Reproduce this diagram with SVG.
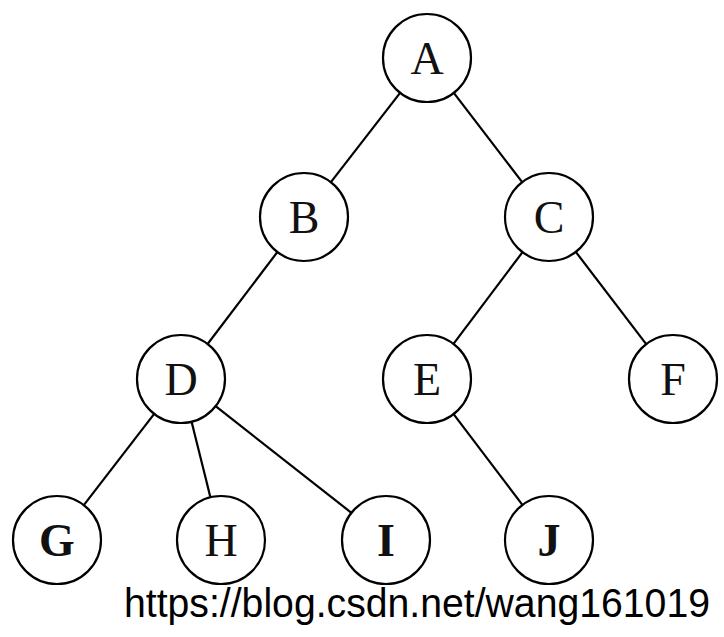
<svg xmlns="http://www.w3.org/2000/svg" width="724" height="637" viewBox="0 0 724 637">
<style>
.n circle{fill:#fff;stroke:#000;stroke-width:2.2}
.n text{font-family:"Liberation Serif","Times New Roman",serif;font-size:46px;text-anchor:middle;fill:#111}
.b text{font-weight:bold}
#edges line{stroke:#000;stroke-width:2.2}
.url{font-family:"Liberation Sans",Arial,sans-serif;font-size:40px;fill:#000}
</style>
<rect width="724" height="637" fill="#fff"/>
<g id="edges">
<line x1="400.1" y1="92.8" x2="330.9" y2="182.2"/>
<line x1="453.8" y1="92.9" x2="522.2" y2="182.1"/>
<line x1="277.4" y1="252" x2="207.6" y2="344"/>
<line x1="522.5" y1="252.2" x2="453.5" y2="343.8"/>
<line x1="575.8" y1="251.9" x2="646.2" y2="344.1"/>
<line x1="154.2" y1="413.9" x2="83.8" y2="505.1"/>
<line x1="191.6" y1="421.7" x2="210.4" y2="497.3"/>
<line x1="215.6" y1="406.2" x2="351.4" y2="512.8"/>
<line x1="453.6" y1="414.1" x2="522.4" y2="504.9"/>
</g>
<g id="A" class="n"><circle cx="427" cy="58" r="44"/><text x="427" y="74">A</text></g>
<g id="B" class="n"><circle cx="304" cy="217" r="44"/><text x="304" y="233">B</text></g>
<g id="C" class="n"><circle cx="549" cy="217" r="44"/><text x="549" y="233">C</text></g>
<g id="D" class="n"><circle cx="181" cy="379" r="44"/><text x="181" y="395">D</text></g>
<g id="E" class="n"><circle cx="427" cy="379" r="44"/><text x="427" y="395">E</text></g>
<g id="F" class="n"><circle cx="673" cy="379" r="44"/><text x="673" y="395">F</text></g>
<g id="G" class="n b"><circle cx="57" cy="540" r="44"/><text x="57" y="556">G</text></g>
<g id="H" class="n"><circle cx="221" cy="540" r="44"/><text x="221" y="556">H</text></g>
<g id="I" class="n b"><circle cx="386" cy="540" r="44"/><text x="386" y="556">I</text></g>
<g id="J" class="n b"><circle cx="549" cy="540" r="44"/><text x="549" y="556">J</text></g>
<text class="url" x="124" y="617" textLength="586" lengthAdjust="spacingAndGlyphs">https://blog.csdn.net/wang161019</text>
</svg>
